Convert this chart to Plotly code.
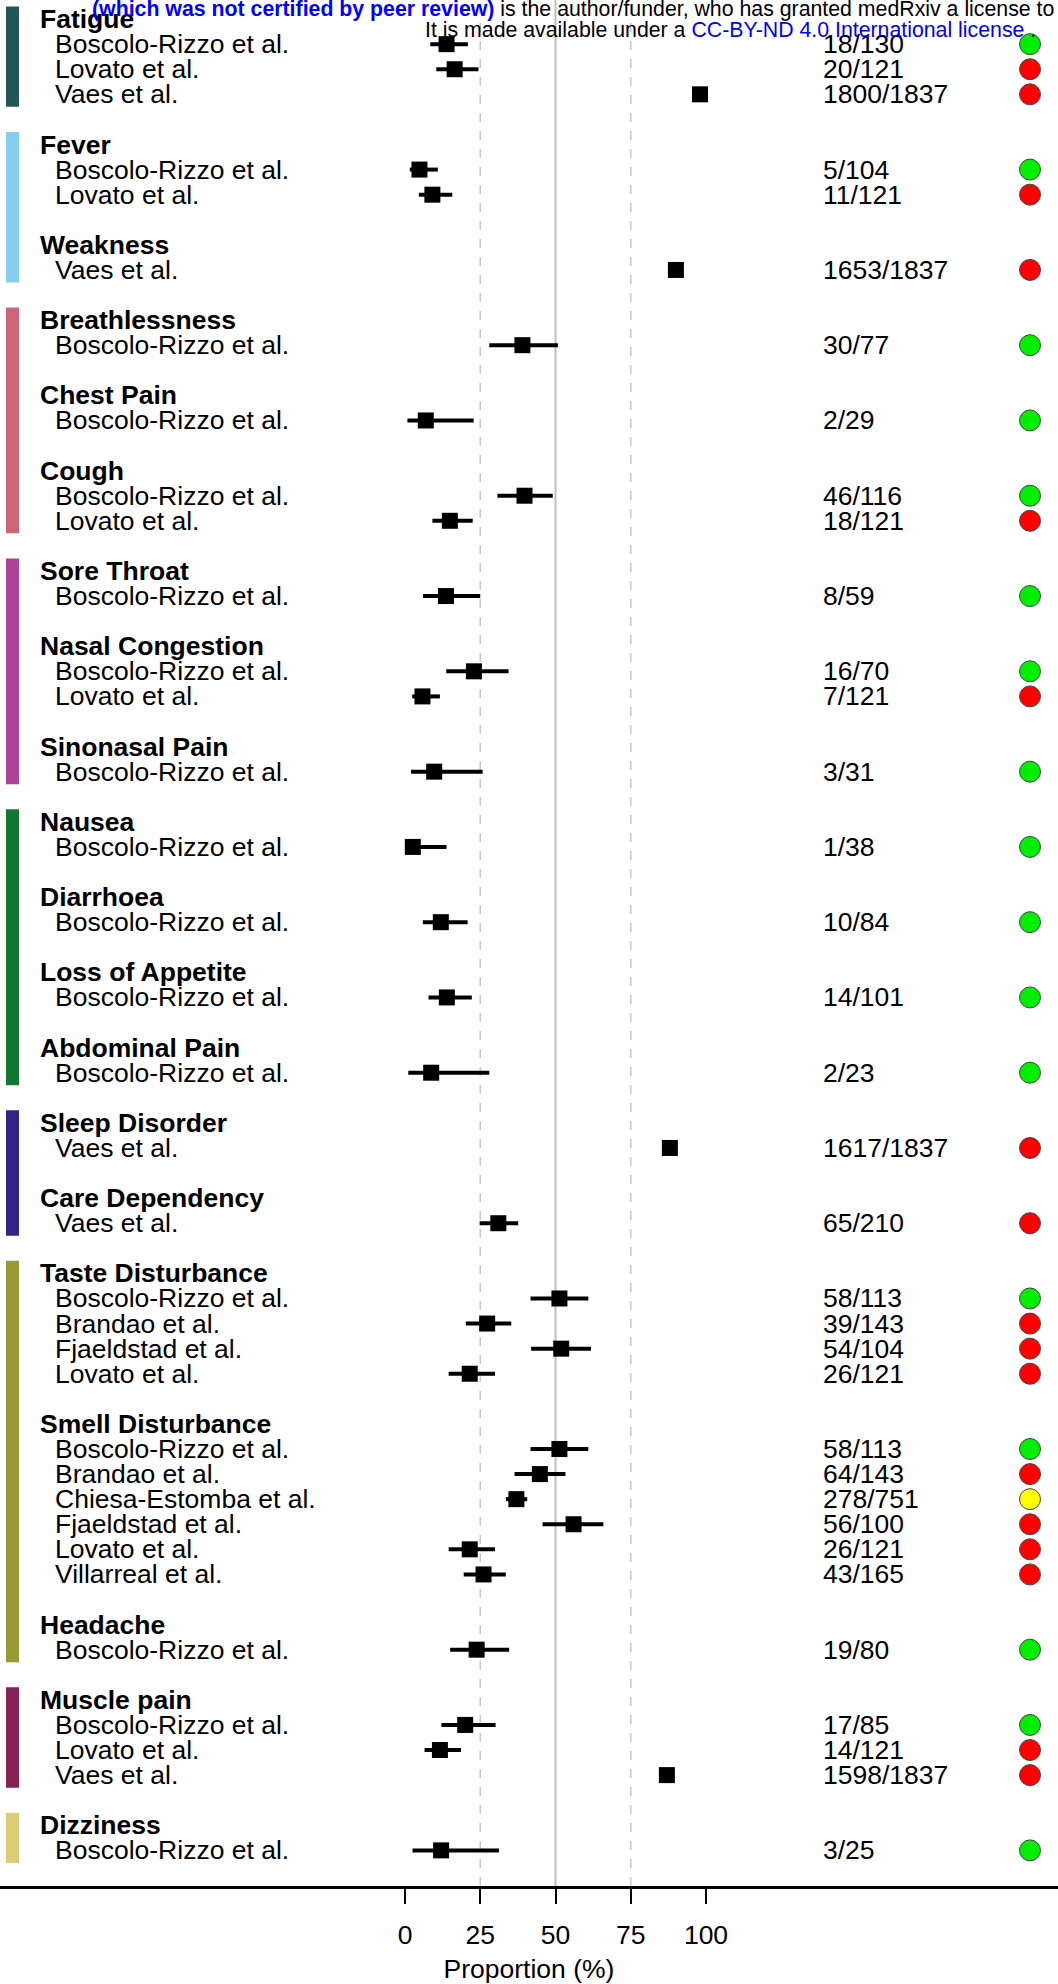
import plotly.graph_objects as go

# ---------------- data ----------------
symptoms = ["Fatigue", "Fever", "Weakness", "Breathlessness", "Chest Pain", "Cough",
            "Sore Throat", "Nasal Congestion", "Sinonasal Pain", "Nausea", "Diarrhoea",
            "Loss of Appetite", "Abdominal Pain", "Sleep Disorder", "Care Dependency",
            "Taste Disturbance", "Smell Disturbance", "Headache", "Muscle pain", "Dizziness"]

study_symptom = ["Fatigue", "Fatigue", "Fatigue",
                 "Fever", "Fever",
                 "Weakness",
                 "Breathlessness",
                 "Chest Pain",
                 "Cough", "Cough",
                 "Sore Throat",
                 "Nasal Congestion", "Nasal Congestion",
                 "Sinonasal Pain",
                 "Nausea",
                 "Diarrhoea",
                 "Loss of Appetite",
                 "Abdominal Pain",
                 "Sleep Disorder",
                 "Care Dependency",
                 "Taste Disturbance", "Taste Disturbance", "Taste Disturbance", "Taste Disturbance",
                 "Smell Disturbance", "Smell Disturbance", "Smell Disturbance",
                 "Smell Disturbance", "Smell Disturbance", "Smell Disturbance",
                 "Headache",
                 "Muscle pain", "Muscle pain", "Muscle pain",
                 "Dizziness"]

study_names = ["Boscolo-Rizzo et al.", "Lovato et al.", "Vaes et al.",
               "Boscolo-Rizzo et al.", "Lovato et al.",
               "Vaes et al.",
               "Boscolo-Rizzo et al.",
               "Boscolo-Rizzo et al.",
               "Boscolo-Rizzo et al.", "Lovato et al.",
               "Boscolo-Rizzo et al.",
               "Boscolo-Rizzo et al.", "Lovato et al.",
               "Boscolo-Rizzo et al.",
               "Boscolo-Rizzo et al.",
               "Boscolo-Rizzo et al.",
               "Boscolo-Rizzo et al.",
               "Boscolo-Rizzo et al.",
               "Vaes et al.",
               "Vaes et al.",
               "Boscolo-Rizzo et al.", "Brandao et al.", "Fjaeldstad et al.", "Lovato et al.",
               "Boscolo-Rizzo et al.", "Brandao et al.", "Chiesa-Estomba et al.",
               "Fjaeldstad et al.", "Lovato et al.", "Villarreal et al.",
               "Boscolo-Rizzo et al.",
               "Boscolo-Rizzo et al.", "Lovato et al.", "Vaes et al.",
               "Boscolo-Rizzo et al."]

counts = ["18/130", "20/121", "1800/1837",
          "5/104", "11/121",
          "1653/1837",
          "30/77",
          "2/29",
          "46/116", "18/121",
          "8/59",
          "16/70", "7/121",
          "3/31",
          "1/38",
          "10/84",
          "14/101",
          "2/23",
          "1617/1837",
          "65/210",
          "58/113", "39/143", "54/104", "26/121",
          "58/113", "64/143", "278/751", "56/100", "26/121", "43/165",
          "19/80",
          "17/85", "14/121", "1598/1837",
          "3/25"]

estimate = [13.8, 16.5, 98.0, 4.8, 9.1, 90.0, 39.0, 6.9, 39.7, 14.9, 13.6, 22.9, 5.8,
            9.7, 2.6, 11.9, 13.9, 8.7, 88.0, 31.0, 51.3, 27.3, 51.9, 21.5, 51.3, 44.8,
            37.0, 56.0, 21.5, 26.1, 23.8, 20.0, 11.6, 87.0, 12.0]
lower = [8.4, 10.4, 97.3, 1.6, 4.6, 88.5, 28.0, 0.8, 30.7, 9.1, 6.0, 13.7, 2.4,
         2.0, 0.1, 5.9, 7.8, 1.1, 86.5, 24.8, 41.7, 20.2, 41.9, 14.5, 41.7, 36.4,
         33.5, 45.7, 14.5, 19.5, 15.0, 12.1, 6.5, 85.4, 2.5]
upper = [20.9, 24.4, 98.6, 10.9, 15.7, 91.3, 50.8, 22.8, 49.1, 22.5, 25.0, 34.4, 11.6,
         25.8, 13.8, 20.8, 22.2, 28.0, 89.5, 37.6, 60.9, 35.3, 61.8, 29.9, 60.9, 53.3,
         40.6, 65.9, 29.9, 33.5, 34.6, 30.1, 18.6, 88.5, 31.2]

risk_of_bias = ["low", "high", "high", "low", "high", "high", "low", "low", "low", "high",
                "low", "low", "high", "low", "low", "low", "low", "low", "high", "high",
                "low", "high", "high", "high", "low", "high", "moderate", "high", "high",
                "high", "low", "low", "high", "high", "low"]

band_first = ["Fatigue", "Fever", "Breathlessness", "Sore Throat", "Nausea",
              "Sleep Disorder", "Taste Disturbance", "Muscle pain", "Dizziness"]
band_last = ["Fatigue", "Weakness", "Cough", "Sinonasal Pain", "Abdominal Pain",
             "Care Dependency", "Headache", "Muscle pain", "Dizziness"]

x_ticks = [0, 25, 50, 75, 100]

# ---------------- styles ----------------
band_colors = ["#225555", "#88CCEE", "#CC6677", "#AA4499", "#117733",
               "#332288", "#999933", "#882255", "#DDCC77"]
rob_colors = {"low": "#00EE00", "moderate": "#FFFF00", "high": "#FF0000"}
FONT = "Liberation Sans, Arial, Helvetica, sans-serif"
FS = 26.5
W, H = 1058, 1984
BOTTOM = 91

# ---------------- row layout ----------------
header_row = {}
last_row = {}
study_row = [None] * len(study_names)
r = 0
for g in symptoms:
    header_row[g] = r
    r += 1
    for i, s in enumerate(study_symptom):
        if s == g:
            study_row[i] = r
            last_row[g] = r
            r += 1
    r += 1

fig = go.Figure()

# estimates with CIs
fig.add_trace(go.Scatter(
    x=estimate, y=study_row, mode="markers",
    marker=dict(symbol="square", size=16, color="black"),
    error_x=dict(type="data", symmetric=False,
                 array=[u - e for u, e in zip(upper, estimate)],
                 arrayminus=[e - l for e, l in zip(estimate, lower)],
                 thickness=4, width=0, color="black"),
    showlegend=False, hoverinfo="skip"))

# risk-of-bias circles
fig.add_trace(go.Scatter(
    x=[1030] * len(study_row), y=study_row, xaxis="x2", mode="markers",
    marker=dict(symbol="circle", size=21, color=[rob_colors[v] for v in risk_of_bias],
                line=dict(color="#444444", width=1)),
    showlegend=False, hoverinfo="skip"))

shapes = []
for xv, dash, col, wd in [(25, "dash", "#C8C8C8", 1.5), (50, "solid", "#BEBEBE", 2), (75, "dash", "#C8C8C8", 1.5)]:
    shapes.append(dict(type="line", xref="x", yref="paper", x0=xv, x1=xv, y0=0, y1=1,
                       line=dict(color=col, width=wd, dash=dash), layer="below"))
for f, l, c in zip(band_first, band_last, band_colors):
    shapes.append(dict(type="rect", xref="paper", yref="y", x0=6 / W, x1=19 / W,
                       y0=header_row[f] - 0.5, y1=last_row[l] + 0.5,
                       fillcolor=c, line=dict(width=0), layer="below"))

annotations = []
for g in symptoms:
    annotations.append(dict(text="<b>" + g + "</b>", xref="paper", yref="y", x=38 / W, y=header_row[g],
                            xanchor="left", yanchor="middle", showarrow=False,
                            font=dict(family=FONT, size=FS, color="black")))
for name, cnt, yr in zip(study_names, counts, study_row):
    annotations.append(dict(text=name, xref="paper", yref="y", x=53 / W, y=yr,
                            xanchor="left", yanchor="middle", showarrow=False,
                            font=dict(family=FONT, size=FS, color="black")))
    annotations.append(dict(text=cnt, xref="paper", yref="y", x=821 / W, y=yr,
                            xanchor="left", yanchor="middle", showarrow=False,
                            font=dict(family=FONT, size=FS, color="black")))

PH = H - BOTTOM
annotations.append(dict(
    text="<span style='color:#0000FF'><b>(which was not certified by peer review)</b></span> is the author/funder, who has granted medRxiv a license to",
    xref="paper", yref="paper", x=1056 / W, y=(PH - 9) / PH, xanchor="right", yanchor="middle",
    showarrow=False, font=dict(family=FONT, size=21.3, color="black")))
annotations.append(dict(
    text="It is made available under a <span style='color:#0000FF'>CC-BY-ND 4.0 International license</span> .",
    xref="paper", yref="paper", x=1038 / W, y=(PH - 30) / PH, xanchor="right", yanchor="middle",
    showarrow=False, font=dict(family=FONT, size=21.3, color="black")))

x_left = -405 / 3.01
x_right = (W - 405) / 3.01

fig.update_layout(
    width=W, height=H, autosize=False,
    margin=dict(l=0, r=0, t=0, b=BOTTOM, pad=0),
    paper_bgcolor="white", plot_bgcolor="white",
    font=dict(family=FONT, size=FS, color="black"),
    xaxis=dict(range=[x_left, x_right], tickvals=x_ticks, ticktext=[str(v) for v in x_ticks],
               ticks="outside", ticklen=15, tickwidth=2, tickcolor="black",
               showline=True, linewidth=3, linecolor="black", mirror=False,
               showgrid=False, zeroline=False, tickfont=dict(size=FS, family=FONT),
               ticklabelstandoff=8,
               title=dict(text="Proportion (%)", font=dict(size=FS, family=FONT), standoff=16)),
    xaxis2=dict(range=[0, W], overlaying="x", visible=False),
    yaxis=dict(range=[74.42, -0.76], visible=False, showgrid=False, zeroline=False),
    shapes=shapes, annotations=annotations,
)

fig.write_html("out.html", config={"displayModeBar": False},
               post_script="document.body.style.margin='0';document.body.style.overflow='hidden';")
